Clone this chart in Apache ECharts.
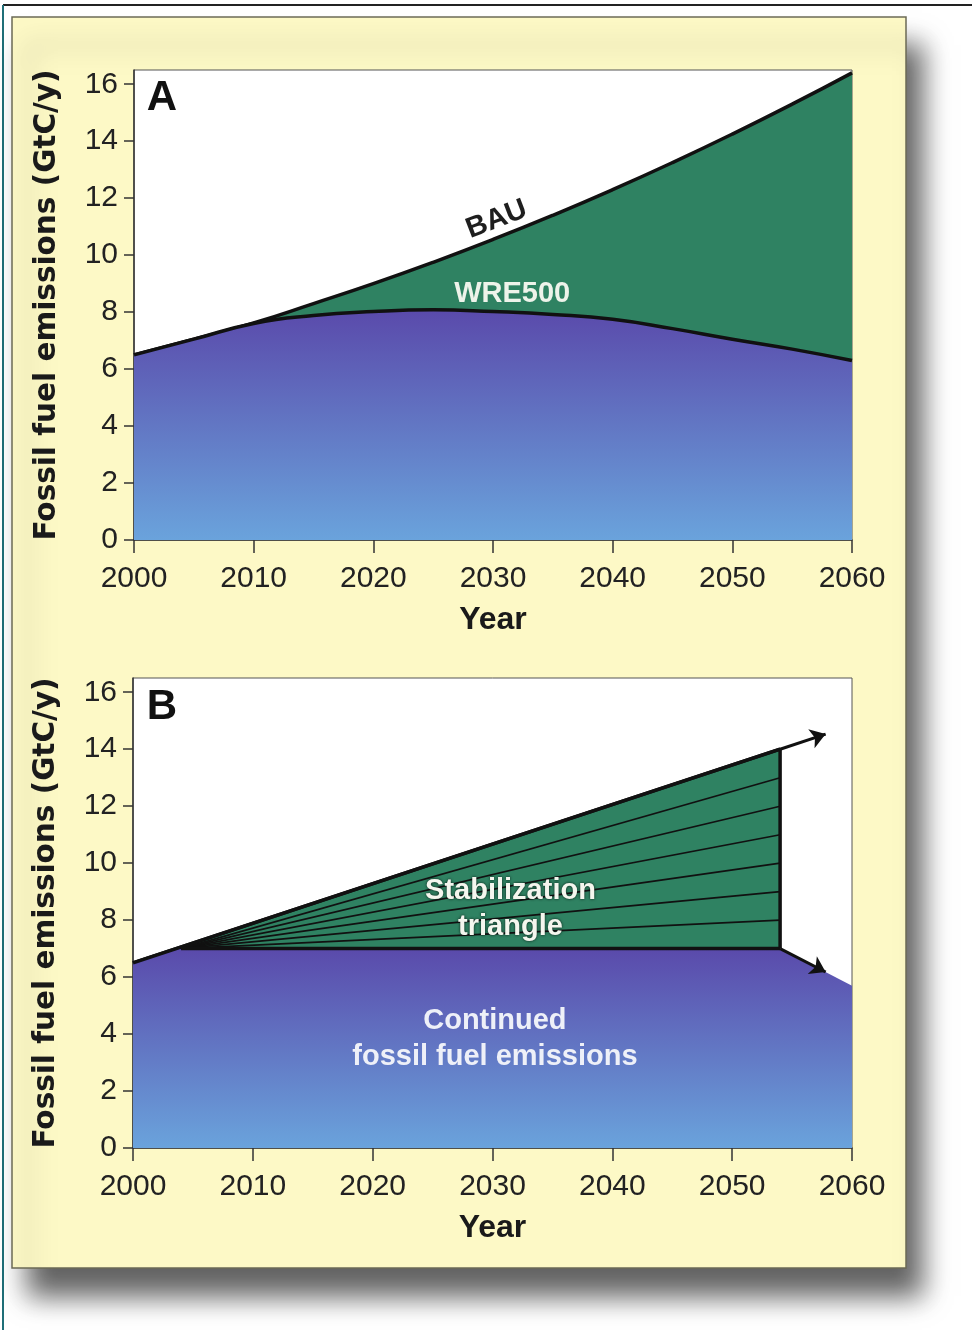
<!DOCTYPE html>
<html>
<head>
<meta charset="utf-8">
<script src="https://cdn.jsdelivr.net/npm/echarts@6.0.0/dist/echarts.min.js"></script>
<style>
html, body { margin: 0; padding: 0; background: #fff; }
#chart { width: 972px; height: 1330px; }
</style>
</head>
<body>
<div id="chart"></div>
<script>
// panel A: business as usual vs WRE500 path
const years = [2000, 2005, 2010, 2015, 2020, 2025, 2030, 2035, 2040, 2045, 2050, 2055, 2060]
const bau = [6.5, 7.05, 7.62, 8.3, 9.0, 9.75, 10.55, 11.4, 12.3, 13.25, 14.25, 15.3, 16.4]
const wre500 = [6.5, 7.05, 7.6, 7.88, 8.02, 8.08, 8.02, 7.92, 7.75, 7.42, 7.05, 6.7, 6.3]

// panel B: stabilization triangle
const bauB = [[2000, 6.5], [2054, 14]]
const continued = [[2000, 6.5], [2004, 7], [2054, 7], [2060, 5.7]]
const flatPath = [[2004, 7], [2054, 7]]
const triangleEdge = [[2054, 7], [2054, 14]]
const wedgeTops = [8, 9, 10, 11, 12, 13]
const arrowUp = [[2054, 14], [2057.8, 14.53]]
const arrowDown = [[2054, 7], [2057.8, 6.18]]

const yTicks = [0, 2, 4, 6, 8, 10, 12, 14, 16]

const FONT = 'Liberation Sans, Arial, sans-serif'
const GREEN = '#2f8262'
const purpleFill = () => new echarts.graphic.LinearGradient(0, 0, 0, 1, [
  { offset: 0, color: '#5a4aab' },
  { offset: 1, color: '#6aa3dc' }
])

const chart = echarts.init(document.getElementById('chart'))

function xAxisFor(idx) {
  return {
    gridIndex: idx,
    type: 'value',
    min: 2000,
    max: 2060,
    interval: 10,
    name: 'Year',
    nameLocation: 'middle',
    nameGap: 64,
    nameTextStyle: { fontFamily: FONT, fontSize: 32, fontWeight: 'bold', color: '#1a1a1a' },
    axisLine: { show: true, lineStyle: { color: '#333', width: 1.5 } },
    axisTick: { show: true, length: 13, lineStyle: { color: '#333', width: 1.5 } },
    axisLabel: { fontFamily: FONT, fontSize: 30, color: '#222', margin: 24, formatter: (v) => String(v) },
    splitLine: { show: false }
  }
}

function yAxisFor(idx) {
  return {
    gridIndex: idx,
    type: 'value',
    min: 0,
    max: 16.5,
    name: 'Fossil fuel emissions (GtC/y)',
    nameLocation: 'middle',
    nameGap: 72,
    nameRotate: 90,
    nameTextStyle: { fontFamily: 'DejaVu Sans, sans-serif', fontSize: 29.5, fontWeight: 'bold', color: '#1a1a1a' },
    axisLine: { show: true, lineStyle: { color: '#333', width: 1.5 } },
    axisTick: { show: true, length: 10, customValues: yTicks, lineStyle: { color: '#333', width: 1.5 } },
    axisLabel: { fontFamily: FONT, fontSize: 30, color: '#222', margin: 16, customValues: yTicks },
    splitLine: { show: false }
  }
}

const blackLine = (w) => ({ color: '#111', width: w })

const series = [
  // A
  {
    name: 'BAU', type: 'line', xAxisIndex: 0, yAxisIndex: 0, z: 1,
    smooth: true, symbol: 'none',
    data: years.map((y, i) => [y, bau[i]]),
    lineStyle: blackLine(3.5),
    areaStyle: { color: GREEN, opacity: 1 },
    markPoint: {
      symbolSize: 0,
      data: [{ coord: [2030.3, 11.25] }],
      label: {
        show: true, position: 'inside', formatter: 'BAU', rotate: 21,
        fontFamily: FONT, fontSize: 29, fontWeight: 'bold', color: '#1e1e1e'
      }
    }
  },
  {
    name: 'WRE500', type: 'line', xAxisIndex: 0, yAxisIndex: 0, z: 2,
    smooth: true, symbol: 'none',
    data: years.map((y, i) => [y, wre500[i]]),
    lineStyle: blackLine(3.5),
    areaStyle: { color: purpleFill(), opacity: 1 },
    markPoint: {
      symbolSize: 0,
      data: [{ coord: [2031.6, 8.63] }],
      label: {
        show: true, position: 'inside', formatter: 'WRE500',
        fontFamily: FONT, fontSize: 29, fontWeight: 'bold', color: '#eef3ea'
      }
    }
  },
  // B
  {
    name: 'BAU B', type: 'line', xAxisIndex: 1, yAxisIndex: 1, z: 1,
    symbol: 'none', data: bauB,
    lineStyle: blackLine(3.5),
    areaStyle: { color: GREEN, opacity: 1 }
  },
  {
    name: 'Continued', type: 'line', xAxisIndex: 1, yAxisIndex: 1, z: 2,
    symbol: 'none', data: continued,
    lineStyle: { width: 0 },
    areaStyle: { color: purpleFill(), opacity: 1 },
    markPoint: {
      symbolSize: 0,
      data: [
        { coord: [2031.5, 8.4], label: { formatter: 'Stabilization\ntriangle', textShadowColor: 'rgba(0,0,0,0.8)', textShadowBlur: 3 } },
        { coord: [2030.2, 3.82], label: { formatter: 'Continued\nfossil fuel emissions', color: '#eef0f8' } }
      ],
      label: {
        show: true, position: 'inside', fontFamily: FONT, fontSize: 29, fontWeight: 'bold',
        lineHeight: 36, color: '#f4f6ee', align: 'center'
      }
    }
  },
  {
    name: 'BAU line B', type: 'line', xAxisIndex: 1, yAxisIndex: 1, z: 4,
    symbol: 'none', data: bauB, lineStyle: blackLine(3.5),
    markLine: {
      silent: true, symbol: ['none', 'arrow'], symbolSize: 15,
      lineStyle: { color: '#111', width: 3, type: 'solid' },
      label: { show: false },
      data: [
        [{ coord: arrowUp[0] }, { coord: arrowUp[1] }],
        [{ coord: arrowDown[0] }, { coord: arrowDown[1] }]
      ]
    }
  },
  {
    name: 'Flat', type: 'line', xAxisIndex: 1, yAxisIndex: 1, z: 4,
    symbol: 'none', data: flatPath, lineStyle: blackLine(3.5)
  },
  {
    name: 'Edge', type: 'line', xAxisIndex: 1, yAxisIndex: 1, z: 4,
    symbol: 'none', data: triangleEdge, lineStyle: blackLine(3.5)
  }
]

wedgeTops.forEach((top, i) => {
  series.push({
    name: 'Wedge ' + (i + 1), type: 'line', xAxisIndex: 1, yAxisIndex: 1, z: 3,
    symbol: 'none', data: [flatPath[0], [triangleEdge[1][0], top]],
    lineStyle: blackLine(1.6)
  })
})

const option = {
  animation: false,
  textStyle: { fontFamily: FONT },
  grid: [
    { left: 134, top: 70, width: 718, height: 470, show: true, backgroundColor: '#fff', borderColor: '#555', borderWidth: 1 },
    { left: 133, top: 678, width: 719, height: 470, show: true, backgroundColor: '#fff', borderColor: '#555', borderWidth: 1 }
  ],
  xAxis: [xAxisFor(0), xAxisFor(1)],
  yAxis: [yAxisFor(0), yAxisFor(1)],
  graphic: [
    { type: 'line', z: -20, shape: { x1: 3, y1: 5, x2: 972, y2: 5 }, style: { stroke: '#222', lineWidth: 2 } },
    { type: 'line', z: -20, shape: { x1: 3, y1: 5, x2: 3, y2: 1330 }, style: { stroke: '#1f6f78', lineWidth: 2 } },
    {
      type: 'rect', z: -10,
      shape: { x: 12, y: 17, width: 894, height: 1251 },
      style: {
        fill: '#fdf9c6', stroke: '#6b6a55', lineWidth: 1.5,
        shadowBlur: 26, shadowOffsetX: 16, shadowOffsetY: 28, shadowColor: 'rgba(0,0,0,0.62)'
      }
    },
    { type: 'text', z: 10, x: 162, y: 98, style: { text: 'A', fontFamily: FONT, fontSize: 42, fontWeight: 'bold', fill: '#111', align: 'center', verticalAlign: 'middle' } },
    { type: 'text', z: 10, x: 162, y: 707, style: { text: 'B', fontFamily: FONT, fontSize: 42, fontWeight: 'bold', fill: '#111', align: 'center', verticalAlign: 'middle' } }
  ],
  series: series
}

chart.setOption(option)
window.addEventListener('resize', () => chart.resize())
</script>
</body>
</html>
